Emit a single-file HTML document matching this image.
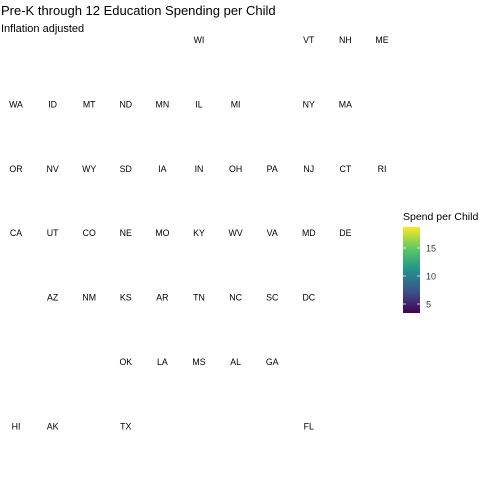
<!DOCTYPE html>
<html><head><meta charset="utf-8"><style>
body{margin:0;background:#fff;font-family:"Liberation Sans",sans-serif;}
svg text{font-family:"Liberation Sans",sans-serif;}
</style></head><body>
<svg width="480" height="480">
<defs><linearGradient id="vir" x1="0" y1="1" x2="0" y2="0">
<stop offset="0" stop-color="#440154"/><stop offset="0.25" stop-color="#3b528b"/><stop offset="0.5" stop-color="#21918c"/><stop offset="0.75" stop-color="#5ec962"/><stop offset="1" stop-color="#fde725"/></linearGradient></defs>
<text x="1" y="15" font-size="13" fill="#000">Pre-K through 12 Education Spending per Child</text>
<text x="1" y="32" font-size="11" fill="#000">Inflation adjusted</text>
<g id="grid"></g>
<g>
<text x="403" y="220" font-size="10.5">Spend per Child</text>
<rect x="403" y="227" width="17" height="86" fill="url(#vir)"/>
<g id="lticks"></g>
</g>
</svg>
<script>
const states=["WI","VT","NH","ME","WA","ID","MT","ND","MN","IL","MI","NY","MA","OR","NV","WY","SD","IA","IN","OH","PA","NJ","CT","RI","CA","UT","CO","NE","MO","KY","WV","VA","MD","DE","AZ","NM","KS","AR","TN","NC","SC","DC","OK","LA","MS","AL","GA","HI","AK","TX","FL"];
const cols=[5,8,9,10,0,1,2,3,4,5,6,8,9,0,1,2,3,4,5,6,7,8,9,10,0,1,2,3,4,5,6,7,8,9,1,2,3,4,5,6,7,8,3,4,5,6,7,0,1,3,8];
const rows=[0,0,0,0,1,1,1,1,1,1,1,1,1,2,2,2,2,2,2,2,2,2,2,2,3,3,3,3,3,3,3,3,3,3,4,4,4,4,4,4,4,4,5,5,5,5,5,6,6,6,6];
const legendTicks=[5,10,15];
const legendMin=3.4, legendMax=18.75;
const NS="http://www.w3.org/2000/svg";
const xs=c=>16+c*36.6, ys=r=>43+r*64.4;
const g=document.getElementById('grid');
states.forEach((s,i)=>{
 const t=document.createElementNS(NS,'text');
 t.setAttribute('x',xs(cols[i]));t.setAttribute('y',ys(rows[i]));
 t.setAttribute('text-anchor','middle');t.setAttribute('font-size','8.8');
 t.textContent=s;
 
 
 g.appendChild(t);
});
const ly=v=>313-(v-legendMin)/(legendMax-legendMin)*86;
const lt=document.getElementById('lticks');
legendTicks.forEach(v=>{
 const y=ly(v);
 const l=document.createElementNS(NS,'path');
 l.setAttribute('d',`M403 ${y}h3M417 ${y}h3`);l.setAttribute('stroke','#fff');l.setAttribute('stroke-width','0.8');
 
 
 lt.appendChild(l);
 const t=document.createElementNS(NS,'text');
 t.setAttribute('x',426);t.setAttribute('y',y+3.5);t.setAttribute('font-size','9');t.setAttribute('fill','#333');
 t.textContent=v;
 
 
 lt.appendChild(t);
});
</script>
</body></html>
